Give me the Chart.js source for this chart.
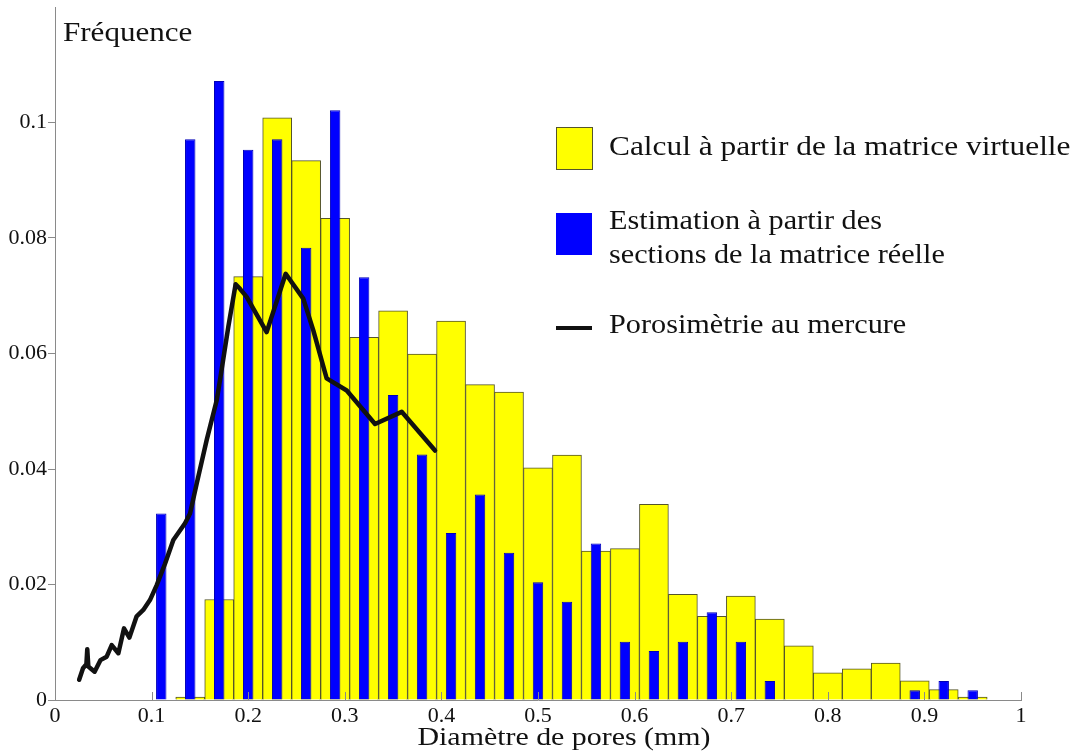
<!DOCTYPE html>
<html lang="fr">
<head>
<meta charset="utf-8">
<title>Distribution des diamètres de pores</title>
<script src="https://cdn.jsdelivr.net/npm/chart.js@4.4.1/dist/chart.umd.min.js"></script>
<style>
  html, body { margin: 0; padding: 0; background: #fff; }
  #wrap { width: 1088px; height: 756px; position: relative; }
</style>
</head>
<body>
<div id="wrap"><canvas id="poreChart"></canvas></div>
<script>
// Bin centres (mm) for the virtual-matrix histogram
const virtualDiam = [0.14, 0.17, 0.20, 0.23, 0.26, 0.29, 0.32, 0.35, 0.38, 0.41,
  0.44, 0.47, 0.50, 0.53, 0.56, 0.59, 0.62, 0.65, 0.68, 0.71,
  0.74, 0.77, 0.80, 0.83, 0.86, 0.89, 0.92, 0.95];
const virtualFreq = [0.0005, 0.0174, 0.0733, 0.1008, 0.0934, 0.0834, 0.0628, 0.0674, 0.0599, 0.0656,
  0.0546, 0.0533, 0.0402, 0.0424, 0.0258, 0.0262, 0.0339, 0.0183, 0.0145, 0.0180,
  0.0140, 0.0094, 0.0047, 0.0054, 0.0064, 0.0033, 0.0018, 0.0005];

// Bin centres (mm) for the estimate from real-matrix sections
const sectionDiam = [0.11, 0.14, 0.17, 0.20, 0.23, 0.26, 0.29, 0.32, 0.35, 0.38,
  0.41, 0.44, 0.47, 0.50, 0.53, 0.56, 0.59, 0.62, 0.65, 0.68,
  0.71, 0.74, 0.77, 0.80, 0.83, 0.86, 0.89, 0.92, 0.95];
const sectionFreq = [0.0323, 0.0971, 0.1072, 0.0953, 0.0971, 0.0783, 0.1021, 0.0732, 0.0528, 0.0425,
  0.0289, 0.0356, 0.0255, 0.0204, 0.0170, 0.0271, 0.0101, 0.0085, 0.0101, 0.0152,
  0.0101, 0.0033, 0, 0, 0, 0, 0.0017, 0.0033, 0.0017];

// Mercury porosimetry curve
const mercuryDiam = [0.025, 0.029, 0.0325, 0.0334, 0.0345, 0.041, 0.047, 0.0535, 0.0587, 0.0656,
  0.0714, 0.077, 0.0845, 0.0914, 0.0983, 0.1053, 0.1139, 0.1225, 0.1346, 0.1398,
  0.1467, 0.157, 0.1674, 0.1708, 0.1794, 0.187, 0.1915, 0.1984, 0.2191, 0.2388,
  0.257, 0.2674, 0.2812, 0.302, 0.3313, 0.3589, 0.3934];
const mercuryFreq = [0.0035, 0.0055, 0.0062, 0.0088, 0.0058, 0.0049, 0.0069, 0.0075, 0.0095, 0.0081,
  0.0124, 0.0108, 0.0145, 0.0156, 0.0173, 0.0199, 0.0236, 0.0277, 0.0306, 0.0323,
  0.0375, 0.0450, 0.0519, 0.0554, 0.0646, 0.0720, 0.0712, 0.0698, 0.0637, 0.0738,
  0.0695, 0.0640, 0.0557, 0.0536, 0.0478, 0.0499, 0.0432];

const xTicks = [0, 0.1, 0.2, 0.3, 0.4, 0.5, 0.6, 0.7, 0.8, 0.9, 1];
const xTickLabels = ['0', '0.1', '0.2', '0.3', '0.4', '0.5', '0.6', '0.7', '0.8', '0.9', '1'];
const yTicks = [0, 0.02, 0.04, 0.06, 0.08, 0.1];
const yTickLabels = ['0', '0.02', '0.04', '0.06', '0.08', '0.1'];

const seriesNames = [
  ['Calcul à partir de la matrice virtuelle'],
  ['Estimation à partir des', 'sections de la matrice réelle'],
  ['Porosimètrie au mercure']
];
const yTitle = 'Fréquence';
const xTitle = 'Diamètre de pores (mm)';

const SERIF = '"Liberation Serif", "DejaVu Serif", serif';
const YELLOW = '#ffff00';
const YELLOW_EDGE = '#55552a';
const BLUE = '#0000ff';
const AXIS = '#8a8a8a';

const toPoints = (xs, ys) => xs.map((x, i) => ({ x, y: ys[i] }));

// Slightly widened serif text, as in the printed figure
function wideText(ctx, text, x, y, size, stretch, align) {
  ctx.save();
  ctx.font = size + 'px ' + SERIF;
  ctx.fillStyle = '#111';
  ctx.textBaseline = 'middle';
  ctx.textAlign = align || 'left';
  ctx.translate(x, y);
  ctx.scale(stretch, 1);
  ctx.fillText(text, 0, 0);
  ctx.restore();
}

// Inner x ticks, axis titles and the legend block
const decorations = {
  id: 'decorations',
  afterDraw(chart) {
    const ctx = chart.ctx;
    const xs = chart.scales.x;
    const area = chart.chartArea;

    ctx.save();
    ctx.strokeStyle = AXIS;
    ctx.lineWidth = 1;
    xTicks.forEach(v => {
      const px = Math.round(xs.getPixelForValue(v)) + 0.5;
      ctx.beginPath();
      ctx.moveTo(px, area.bottom);
      ctx.lineTo(px, area.bottom - 8);
      ctx.stroke();
    });
    ctx.restore();

    wideText(ctx, yTitle, 63, 34, 27, 1.15);
    wideText(ctx, xTitle, 564, 738, 26, 1.15, 'center');

    // legend swatches
    ctx.save();
    ctx.fillStyle = YELLOW;
    ctx.fillRect(556, 127, 36, 42);
    ctx.strokeStyle = YELLOW_EDGE;
    ctx.lineWidth = 1;
    ctx.strokeRect(556.5, 127.5, 36, 42);
    ctx.fillStyle = BLUE;
    ctx.fillRect(556, 213, 36, 42);
    ctx.strokeStyle = '#111';
    ctx.lineWidth = 4;
    ctx.beginPath();
    ctx.moveTo(556, 328);
    ctx.lineTo(592, 328);
    ctx.stroke();
    ctx.restore();

    wideText(ctx, seriesNames[0][0], 609, 148, 28, 1.12);
    wideText(ctx, seriesNames[1][0], 609, 222, 28, 1.08);
    wideText(ctx, seriesNames[1][1], 609, 256, 28, 1.08);
    wideText(ctx, seriesNames[2][0], 609, 326, 28, 1.08);
  }
};

new Chart(document.getElementById('poreChart'), {
  type: 'bar',
  data: {
    datasets: [
      {
        type: 'line',
        label: seriesNames[2][0],
        data: toPoints(mercuryDiam, mercuryFreq),
        borderColor: '#111',
        borderWidth: 4.5,
        pointRadius: 0,
        tension: 0,
        borderJoinStyle: 'round',
        borderCapStyle: 'round',
        order: 0
      },
      {
        label: seriesNames[1].join(' '),
        data: toPoints(sectionDiam, sectionFreq),
        backgroundColor: BLUE,
        borderColor: '#0000b8',
        borderWidth: 1,
        grouped: false,
        barPercentage: 0.36,
        categoryPercentage: 1,
        order: 1
      },
      {
        label: seriesNames[0][0],
        data: toPoints(virtualDiam, virtualFreq),
        backgroundColor: YELLOW,
        borderColor: YELLOW_EDGE,
        borderWidth: 1,
        grouped: false,
        barPercentage: 1,
        categoryPercentage: 1,
        order: 2
      }
    ]
  },
  options: {
    responsive: true,
    maintainAspectRatio: false,
    animation: false,
    layout: { padding: { top: 7, right: 67, left: 0, bottom: 0 } },
    plugins: {
      legend: { display: false },
      tooltip: { enabled: false }
    },
    scales: {
      x: {
        type: 'linear',
        min: 0,
        max: 1,
        offset: false,
        afterFit: s => { s.height = 56; },
        afterBuildTicks: s => { s.ticks = xTicks.map(v => ({ value: v })); },
        grid: { drawOnChartArea: false, drawTicks: false },
        border: { display: true, color: AXIS, width: 1 },
        ticks: {
          padding: 3,
          maxRotation: 0,
          autoSkip: false,
          color: '#111',
          font: { family: SERIF, size: 22 },
          callback: (v, i) => xTickLabels[i]
        }
      },
      y: {
        min: 0,
        max: 0.12,
        afterFit: s => {
          s.width = 55;
          s.paddingTop = 0;
          s.paddingBottom = 0;
        },
        afterBuildTicks: s => { s.ticks = yTicks.map(v => ({ value: v })); },
        grid: { drawOnChartArea: false, drawTicks: true, tickLength: 7, color: AXIS },
        border: { display: true, color: AXIS, width: 1 },
        ticks: {
          padding: 1,
          autoSkip: false,
          color: '#111',
          font: { family: SERIF, size: 22 },
          callback: (v, i) => yTickLabels[i]
        }
      }
    }
  },
  plugins: [decorations]
});
</script>
</body>
</html>
